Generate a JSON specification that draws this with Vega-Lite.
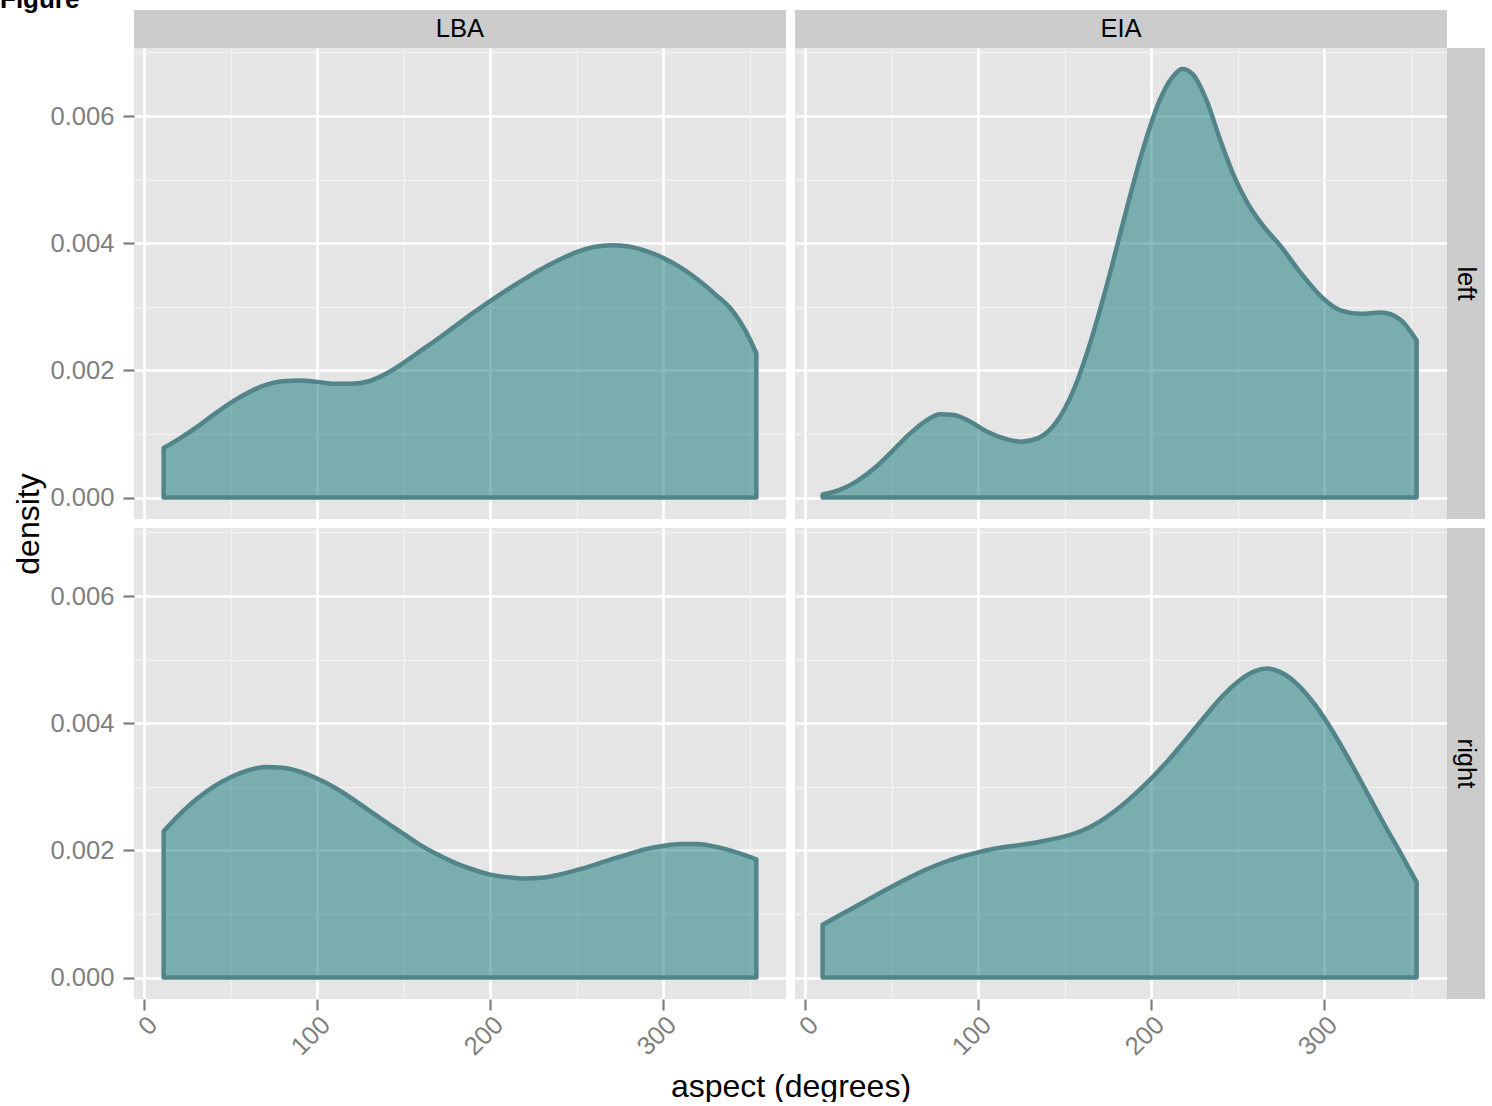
{
  "$schema": "https://vega.github.io/schema/vega-lite/v6.json",
  "padding": {"left": 0, "top": -13, "right": 8, "bottom": 0},
  "title": {"text": "Figure", "anchor": "start", "fontSize": 26, "fontWeight": "bold", "color": "black", "offset": -3, "dx": -12},
  "config": {
    "view": {"stroke": null},
    "font": "Liberation Sans",
    "axis": {"labelFont": "Liberation Sans", "titleFont": "Liberation Sans"},
    "text": {"font": "Liberation Sans"}
  },
  "datasets": {
    "lba_left": [
      {"deg": 11.3, "density": 0.00078}, {"deg": 20, "density": 0.00092}, {"deg": 30, "density": 0.0011}, {"deg": 40, "density": 0.0013},
      {"deg": 50, "density": 0.00149}, {"deg": 60, "density": 0.00165}, {"deg": 70, "density": 0.00177}, {"deg": 80, "density": 0.00183},
      {"deg": 90, "density": 0.00184}, {"deg": 100, "density": 0.00182}, {"deg": 110, "density": 0.00179}, {"deg": 120, "density": 0.00179},
      {"deg": 130, "density": 0.00183}, {"deg": 140, "density": 0.00195}, {"deg": 150, "density": 0.00212}, {"deg": 160, "density": 0.00231},
      {"deg": 170, "density": 0.0025}, {"deg": 180, "density": 0.0027}, {"deg": 190, "density": 0.0029}, {"deg": 200, "density": 0.00309},
      {"deg": 210, "density": 0.00327}, {"deg": 220, "density": 0.00344}, {"deg": 230, "density": 0.0036}, {"deg": 240, "density": 0.00374},
      {"deg": 250, "density": 0.00386}, {"deg": 260, "density": 0.00394}, {"deg": 270, "density": 0.00397}, {"deg": 280, "density": 0.00395},
      {"deg": 290, "density": 0.00388}, {"deg": 300, "density": 0.00377}, {"deg": 310, "density": 0.00362}, {"deg": 320, "density": 0.00343},
      {"deg": 330, "density": 0.0032}, {"deg": 340, "density": 0.00294}, {"deg": 350, "density": 0.0025}, {"deg": 353.9, "density": 0.00227}
    ],
    "eia_left": [
      {"deg": 10.1, "density": 0.00005}, {"deg": 20, "density": 0.00012}, {"deg": 30, "density": 0.00026}, {"deg": 40, "density": 0.00046},
      {"deg": 50, "density": 0.00072}, {"deg": 60, "density": 0.00099}, {"deg": 70, "density": 0.00121}, {"deg": 78, "density": 0.00131},
      {"deg": 86, "density": 0.0013}, {"deg": 95, "density": 0.0012}, {"deg": 105, "density": 0.00104}, {"deg": 115, "density": 0.00093},
      {"deg": 125, "density": 0.00088}, {"deg": 135, "density": 0.00094}, {"deg": 145, "density": 0.00118}, {"deg": 155, "density": 0.00168},
      {"deg": 165, "density": 0.00245}, {"deg": 175, "density": 0.0034}, {"deg": 185, "density": 0.00445}, {"deg": 195, "density": 0.00545},
      {"deg": 205, "density": 0.00625}, {"deg": 212, "density": 0.0066}, {"deg": 218, "density": 0.00674}, {"deg": 224, "density": 0.00666},
      {"deg": 232, "density": 0.00625}, {"deg": 240, "density": 0.00562}, {"deg": 248, "density": 0.00505}, {"deg": 256, "density": 0.00462},
      {"deg": 264, "density": 0.0043}, {"deg": 275, "density": 0.00395}, {"deg": 286, "density": 0.00355}, {"deg": 298, "density": 0.00317},
      {"deg": 310, "density": 0.00294}, {"deg": 321, "density": 0.00289}, {"deg": 333, "density": 0.00291}, {"deg": 344, "density": 0.0028},
      {"deg": 353.5, "density": 0.00247}
    ],
    "lba_right": [
      {"deg": 11.3, "density": 0.0023}, {"deg": 20, "density": 0.00255}, {"deg": 30, "density": 0.0028}, {"deg": 40, "density": 0.003},
      {"deg": 50, "density": 0.00315}, {"deg": 60, "density": 0.00326}, {"deg": 70, "density": 0.00331}, {"deg": 80, "density": 0.0033},
      {"deg": 90, "density": 0.00324}, {"deg": 100, "density": 0.00313}, {"deg": 110, "density": 0.00299}, {"deg": 120, "density": 0.00282},
      {"deg": 130, "density": 0.00263}, {"deg": 140, "density": 0.00244}, {"deg": 150, "density": 0.00226}, {"deg": 160, "density": 0.00208},
      {"deg": 170, "density": 0.00193}, {"deg": 180, "density": 0.0018}, {"deg": 190, "density": 0.0017}, {"deg": 200, "density": 0.00162},
      {"deg": 210, "density": 0.00158}, {"deg": 220, "density": 0.00156}, {"deg": 230, "density": 0.00157}, {"deg": 240, "density": 0.00162},
      {"deg": 250, "density": 0.00169}, {"deg": 260, "density": 0.00177}, {"deg": 270, "density": 0.00186}, {"deg": 280, "density": 0.00194},
      {"deg": 290, "density": 0.00202}, {"deg": 300, "density": 0.00207}, {"deg": 310, "density": 0.0021}, {"deg": 320, "density": 0.0021},
      {"deg": 330, "density": 0.00206}, {"deg": 340, "density": 0.00199}, {"deg": 350, "density": 0.0019}, {"deg": 353.9, "density": 0.00186}
    ],
    "eia_right": [
      {"deg": 10.1, "density": 0.00083}, {"deg": 20, "density": 0.00098}, {"deg": 30, "density": 0.00113}, {"deg": 40, "density": 0.00128},
      {"deg": 50, "density": 0.00143}, {"deg": 60, "density": 0.00157}, {"deg": 70, "density": 0.0017}, {"deg": 80, "density": 0.00181},
      {"deg": 90, "density": 0.0019}, {"deg": 100, "density": 0.00197}, {"deg": 110, "density": 0.00203}, {"deg": 120, "density": 0.00207},
      {"deg": 130, "density": 0.00211}, {"deg": 140, "density": 0.00216}, {"deg": 150, "density": 0.00222}, {"deg": 160, "density": 0.00231},
      {"deg": 170, "density": 0.00245}, {"deg": 180, "density": 0.00264}, {"deg": 190, "density": 0.00287}, {"deg": 200, "density": 0.00313},
      {"deg": 210, "density": 0.00342}, {"deg": 220, "density": 0.00374}, {"deg": 230, "density": 0.00407}, {"deg": 240, "density": 0.00439},
      {"deg": 250, "density": 0.00465}, {"deg": 260, "density": 0.00482}, {"deg": 267, "density": 0.00486}, {"deg": 275, "density": 0.0048},
      {"deg": 285, "density": 0.0046}, {"deg": 295, "density": 0.00428}, {"deg": 305, "density": 0.00387}, {"deg": 315, "density": 0.0034},
      {"deg": 325, "density": 0.0029}, {"deg": 335, "density": 0.0024}, {"deg": 345, "density": 0.00192}, {"deg": 353.5, "density": 0.0015}
    ]
  },
  "concat": [
    {"width": 652, "height": 38, "view": {"fill": "#CCCCCC", "stroke": null}, "data": {"values": [{"lab": "LBA"}]},
     "mark": {"type": "text", "fontSize": 25.6, "color": "black", "align": "center", "baseline": "middle"},
     "encoding": {"text": {"field": "lab", "type": "nominal"}}},
    {"width": 9, "height": 38, "data": {"values": []}, "mark": {"type": "point", "opacity": 0}},
    {"width": 652, "height": 38, "view": {"fill": "#CCCCCC", "stroke": null}, "data": {"values": [{"lab": "EIA"}]},
     "mark": {"type": "text", "fontSize": 25.6, "color": "black", "align": "center", "baseline": "middle"},
     "encoding": {"text": {"field": "lab", "type": "nominal"}}},
    {"width": 38, "height": 38, "data": {"values": []}, "mark": {"type": "point", "opacity": 0}},

    {"width": 652, "height": 471, "view": {"fill": "#E5E5E5", "stroke": null}, "data": {"name": "lba_left"},
     "layer": [
       {"mark": {"type": "area", "interpolate": "monotone", "fill": "#0F7575", "fillOpacity": 0.5, "stroke": null},
        "encoding": {
          "x": {"field": "deg", "type": "quantitative", "scale": {"domain": [-5.85, 371.05], "nice": false, "zero": false},
                "axis": {"orient": "bottom", "values": [50, 150, 250, 350], "grid": true, "gridColor": "#F2F2F2", "gridWidth": 1.3, "labels": false, "ticks": false, "domain": false, "title": null}},
          "y": {"field": "density", "type": "quantitative", "scale": {"domain": [-0.0003367, 0.0070707], "nice": false, "zero": false},
                "axis": {"orient": "left", "values": [0.001, 0.003, 0.005, 0.007], "grid": true, "gridColor": "#F2F2F2", "gridWidth": 1.3, "labels": false, "ticks": false, "domain": false, "title": null}},
          "y2": {"datum": 0}}},
       {"mark": {"type": "area", "interpolate": "monotone", "fill": "transparent", "stroke": "#52858A", "strokeWidth": 4.5, "strokeJoin": "round"},
        "encoding": {
          "x": {"field": "deg", "type": "quantitative",
                "axis": {"orient": "bottom", "values": [0, 100, 200, 300], "grid": true, "gridColor": "white", "gridWidth": 2.7, "labels": false, "ticks": false, "domain": false, "title": null}},
          "y": {"field": "density", "type": "quantitative",
                "axis": {"orient": "left", "values": [0, 0.002, 0.004, 0.006], "format": ".3f", "grid": true, "gridColor": "white", "gridWidth": 2.7, "domain": false,
                         "tickColor": "#7F7F7F", "tickSize": 11, "tickWidth": 2.2, "labelPadding": 9, "labelFontSize": 25.6, "labelColor": "#7F7F7F", "title": null}},
          "y2": {"datum": 0}}}
     ],
     "resolve": {"axis": {"x": "independent", "y": "independent"}}},
    {"width": 9, "height": 471, "data": {"values": []}, "mark": {"type": "point", "opacity": 0}},
    {"width": 652, "height": 471, "view": {"fill": "#E5E5E5", "stroke": null}, "data": {"name": "eia_left"},
     "layer": [
       {"mark": {"type": "area", "interpolate": "monotone", "fill": "#0F7575", "fillOpacity": 0.5, "stroke": null},
        "encoding": {
          "x": {"field": "deg", "type": "quantitative", "scale": {"domain": [-5.85, 371.05], "nice": false, "zero": false},
                "axis": {"orient": "bottom", "values": [50, 150, 250, 350], "grid": true, "gridColor": "#F2F2F2", "gridWidth": 1.3, "labels": false, "ticks": false, "domain": false, "title": null}},
          "y": {"field": "density", "type": "quantitative", "scale": {"domain": [-0.0003367, 0.0070707], "nice": false, "zero": false},
                "axis": {"orient": "left", "values": [0.001, 0.003, 0.005, 0.007], "grid": true, "gridColor": "#F2F2F2", "gridWidth": 1.3, "labels": false, "ticks": false, "domain": false, "title": null}},
          "y2": {"datum": 0}}},
       {"mark": {"type": "area", "interpolate": "monotone", "fill": "transparent", "stroke": "#52858A", "strokeWidth": 4.5, "strokeJoin": "round"},
        "encoding": {
          "x": {"field": "deg", "type": "quantitative",
                "axis": {"orient": "bottom", "values": [0, 100, 200, 300], "grid": true, "gridColor": "white", "gridWidth": 2.7, "labels": false, "ticks": false, "domain": false, "title": null}},
          "y": {"field": "density", "type": "quantitative",
                "axis": {"orient": "left", "values": [0, 0.002, 0.004, 0.006], "grid": true, "gridColor": "white", "gridWidth": 2.7, "labels": false, "ticks": false, "domain": false, "title": null}},
          "y2": {"datum": 0}}}
     ],
     "resolve": {"axis": {"x": "independent", "y": "independent"}}},
    {"width": 38, "height": 471, "view": {"fill": "#CCCCCC", "stroke": null}, "data": {"values": [{"lab": "left"}]},
     "mark": {"type": "text", "fontSize": 25.6, "color": "black", "align": "center", "baseline": "middle", "angle": 90},
     "encoding": {"text": {"field": "lab", "type": "nominal"}}},

    {"width": 652, "height": 9, "data": {"values": []}, "mark": {"type": "point", "opacity": 0},
     "encoding": {"y": {"field": "v", "type": "quantitative", "scale": {"domain": [0, 1]},
       "axis": {"orient": "left", "title": "density", "labels": false, "ticks": false, "tickSize": 0, "domain": false, "grid": false,
                "titleFontSize": 32, "titleFontWeight": "normal", "titleColor": "black", "titlePadding": 89}}}},
    {"width": 9, "height": 9, "data": {"values": []}, "mark": {"type": "point", "opacity": 0}},
    {"width": 652, "height": 9, "data": {"values": []}, "mark": {"type": "point", "opacity": 0}},
    {"width": 38, "height": 9, "data": {"values": []}, "mark": {"type": "point", "opacity": 0}},

    {"width": 652, "height": 471, "view": {"fill": "#E5E5E5", "stroke": null}, "data": {"name": "lba_right"},
     "layer": [
       {"mark": {"type": "area", "interpolate": "monotone", "fill": "#0F7575", "fillOpacity": 0.5, "stroke": null},
        "encoding": {
          "x": {"field": "deg", "type": "quantitative", "scale": {"domain": [-5.85, 371.05], "nice": false, "zero": false},
                "axis": {"orient": "bottom", "values": [50, 150, 250, 350], "grid": true, "gridColor": "#F2F2F2", "gridWidth": 1.3, "labels": false, "ticks": false, "domain": false, "title": null}},
          "y": {"field": "density", "type": "quantitative", "scale": {"domain": [-0.0003367, 0.0070707], "nice": false, "zero": false},
                "axis": {"orient": "left", "values": [0.001, 0.003, 0.005, 0.007], "grid": true, "gridColor": "#F2F2F2", "gridWidth": 1.3, "labels": false, "ticks": false, "domain": false, "title": null}},
          "y2": {"datum": 0}}},
       {"mark": {"type": "area", "interpolate": "monotone", "fill": "transparent", "stroke": "#52858A", "strokeWidth": 4.5, "strokeJoin": "round"},
        "encoding": {
          "x": {"field": "deg", "type": "quantitative",
                "axis": {"orient": "bottom", "values": [0, 100, 200, 300], "grid": true, "gridColor": "white", "gridWidth": 2.7, "domain": false,
                         "tickColor": "#7F7F7F", "tickSize": 11, "tickWidth": 2.2, "labelPadding": 2, "labelFontSize": 25.6, "labelColor": "#7F7F7F",
                         "labelAngle": -45, "labelAlign": "right", "labelBaseline": "top", "labelFlush": false, "labelOverlap": false, "title": null}},
          "y": {"field": "density", "type": "quantitative",
                "axis": {"orient": "left", "values": [0, 0.002, 0.004, 0.006], "format": ".3f", "grid": true, "gridColor": "white", "gridWidth": 2.7, "domain": false,
                         "tickColor": "#7F7F7F", "tickSize": 11, "tickWidth": 2.2, "labelPadding": 9, "labelFontSize": 25.6, "labelColor": "#7F7F7F", "title": null}},
          "y2": {"datum": 0}}}
     ],
     "resolve": {"axis": {"x": "independent", "y": "independent"}}},
    {"width": 9, "height": 471, "data": {"values": []}, "mark": {"type": "point", "opacity": 0},
     "encoding": {"x": {"field": "v", "type": "quantitative", "scale": {"domain": [0, 1]},
       "axis": {"orient": "bottom", "title": "aspect (degrees)", "labels": false, "ticks": false, "tickSize": 0, "domain": false, "grid": false,
                "titleFontSize": 32, "titleFontWeight": "normal", "titleColor": "black", "titlePadding": 72}}}},
    {"width": 652, "height": 471, "view": {"fill": "#E5E5E5", "stroke": null}, "data": {"name": "eia_right"},
     "layer": [
       {"mark": {"type": "area", "interpolate": "monotone", "fill": "#0F7575", "fillOpacity": 0.5, "stroke": null},
        "encoding": {
          "x": {"field": "deg", "type": "quantitative", "scale": {"domain": [-5.85, 371.05], "nice": false, "zero": false},
                "axis": {"orient": "bottom", "values": [50, 150, 250, 350], "grid": true, "gridColor": "#F2F2F2", "gridWidth": 1.3, "labels": false, "ticks": false, "domain": false, "title": null}},
          "y": {"field": "density", "type": "quantitative", "scale": {"domain": [-0.0003367, 0.0070707], "nice": false, "zero": false},
                "axis": {"orient": "left", "values": [0.001, 0.003, 0.005, 0.007], "grid": true, "gridColor": "#F2F2F2", "gridWidth": 1.3, "labels": false, "ticks": false, "domain": false, "title": null}},
          "y2": {"datum": 0}}},
       {"mark": {"type": "area", "interpolate": "monotone", "fill": "transparent", "stroke": "#52858A", "strokeWidth": 4.5, "strokeJoin": "round"},
        "encoding": {
          "x": {"field": "deg", "type": "quantitative",
                "axis": {"orient": "bottom", "values": [0, 100, 200, 300], "grid": true, "gridColor": "white", "gridWidth": 2.7, "domain": false,
                         "tickColor": "#7F7F7F", "tickSize": 11, "tickWidth": 2.2, "labelPadding": 2, "labelFontSize": 25.6, "labelColor": "#7F7F7F",
                         "labelAngle": -45, "labelAlign": "right", "labelBaseline": "top", "labelFlush": false, "labelOverlap": false, "title": null}},
          "y": {"field": "density", "type": "quantitative",
                "axis": {"orient": "left", "values": [0, 0.002, 0.004, 0.006], "grid": true, "gridColor": "white", "gridWidth": 2.7, "labels": false, "ticks": false, "domain": false, "title": null}},
          "y2": {"datum": 0}}}
     ],
     "resolve": {"axis": {"x": "independent", "y": "independent"}}},
    {"width": 38, "height": 471, "view": {"fill": "#CCCCCC", "stroke": null}, "data": {"values": [{"lab": "right"}]},
     "mark": {"type": "text", "fontSize": 25.6, "color": "black", "align": "center", "baseline": "middle", "angle": 90},
     "encoding": {"text": {"field": "lab", "type": "nominal"}}}
  ],
  "columns": 4,
  "spacing": 0,
  "align": "each",
  "bounds": "flush"
}
